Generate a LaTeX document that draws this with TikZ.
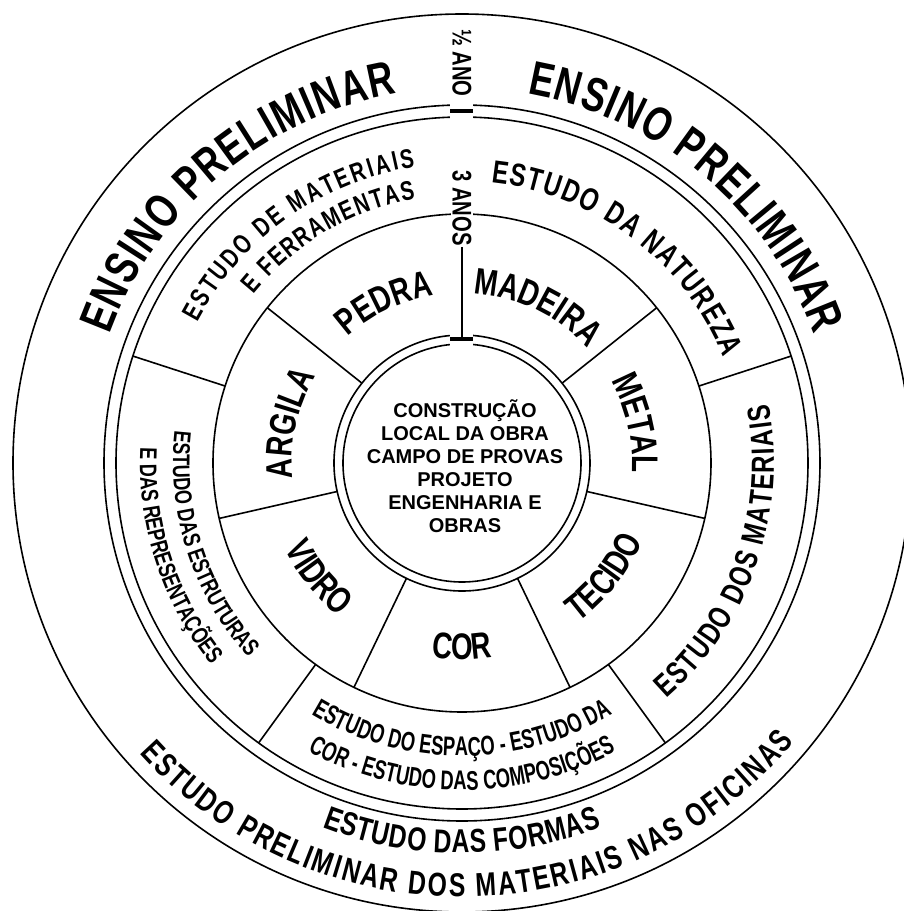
\documentclass[tikz,border=0pt]{standalone}
\usepackage{fontspec}
\setmainfont{Liberation Sans}
\newfontfamily\narrowfont[FakeStretch=0.75]{Liberation Sans}
\newfontfamily\tightfont[FakeStretch=0.68]{Liberation Sans}
\newcommand{\nb}[1]{\narrowfont\bfseries\fontsize{#1}{#1}\selectfont}
\newcommand{\tb}[1]{\tightfont\bfseries\fontsize{#1}{#1}\selectfont}
\usetikzlibrary{decorations.text}

\begin{document}
\begin{tikzpicture}
	[
	x=1pt, y=1pt,
	ring/.style={line width=1.6pt},
	fittext/.style={decorate, decoration={text along path, text align={fit to path}, text={#1}}},
	midtext/.style={decorate, decoration={text along path, text align=center, text={#1}}},
	tag/.style={rotate=-90, inner sep=1pt, font={\nb{27}}}
	]
		\useasboundingbox (-462,-448) rectangle (442,463);

		% circles
		\draw[ring] (0,0) circle[radius=449pt];
		\draw[ring] (0,0) circle[radius=358pt];
		\draw[ring] (0,0) circle[radius=346pt];
		\draw[ring] (0,0) circle[radius=249pt];
		\draw[ring] (0,0) circle[radius=128pt];
		\draw[ring] (0,0) circle[radius=119pt];

		% dividers
		\foreach \k in {1,...,6} \draw[ring] ({90-\k*360/7}:128pt) -- ({90-\k*360/7}:249pt);
		\foreach \a in {18,-54,-126,162} \draw[ring] (\a:249pt) -- (\a:346pt);

		% breaks at the top
		\fill[white] (-11.5,343) rectangle (11.5,361);
		\fill[white] (-11.5,116) rectangle (11.5,131);
		\draw[line width=4pt] (-11.5,352) -- (11.5,352);
		\draw[line width=4pt] (-11.5,123.5) -- (11.5,123.5);

		% time labels
		\node[tag] (half) at (0,400) {½ ANO};
		\node[tag, fill=white] (three) at (0,255) {3 ANOS};
		\coordinate (hub) at (0,123.5);
		\draw[ring] (three.east) -- (hub);

		% core
		\node[align=center, font={\bfseries\fontsize{20}{23}\selectfont}] (core) at (3,-3)
			{CONSTRUÇÃO\\LOCAL DA OBRA\\CAMPO DE PROVAS\\PROJETO\\ENGENHARIA E\\OBRAS};

		% materials
		\path[midtext={|\nb{37}|PEDRA}] (141.43:170pt) arc[start angle=141.43, end angle=90, radius=170pt];
		\path[midtext={|\nb{37}|MADEIRA}] (90:170pt) arc[start angle=90, end angle=38.57, radius=170pt];
		\path[midtext={|\nb{37}|METAL}] (38.57:170pt) arc[start angle=38.57, end angle=-12.86, radius=170pt];
		\path[midtext={|\nb{37}|TECIDO}] (-64.29:197pt) arc[start angle=-64.29, end angle=-12.86, radius=197pt];
		\path[midtext={|\nb{37}|COR}] (-115.71:197pt) arc[start angle=-115.71, end angle=-64.29, radius=197pt];
		\path[midtext={|\nb{37}|VIDRO}] (192.86:197pt) arc[start angle=192.86, end angle=244.29, radius=197pt];
		\path[midtext={|\nb{37}|ARGILA}] (192.86:170pt) arc[start angle=192.86, end angle=141.43, radius=170pt];

		% studies
		\path[fittext={|\nb{27}|ESTUDO DE MATERIAIS}] (152:300pt) arc[start angle=152, end angle=99, radius=300pt];
		\path[fittext={|\nb{27}|E FERRAMENTAS}] (141:268pt) arc[start angle=141, end angle=100, radius=268pt];
		\path[fittext={|\nb{32}|ESTUDO DA NATUREZA}] (84:282pt) arc[start angle=84, end angle=22, radius=282pt];
		\path[fittext={|\nb{32}|ESTUDO DOS MATERIAIS}] (-49:312pt) arc[start angle=-49, end angle=11, radius=312pt];
		\path[midtext={|\tb{27}|ESTUDO DO ESPAÇO - ESTUDO DA}] (234:293pt) arc[start angle=234, end angle=306, radius=293pt];
		\path[midtext={|\tb{27}|COR - ESTUDO DAS COMPOSIÇÕES}] (234:327pt) arc[start angle=234, end angle=306, radius=327pt];
		\path[midtext={|\nb{24}|ESTUDO DAS ESTRUTURAS}] (162:289pt) arc[start angle=162, end angle=234, radius=289pt];
		\path[midtext={|\nb{24}|E DAS REPRESENTAÇÕES}] (162:322pt) arc[start angle=162, end angle=234, radius=322pt];

		% outer ring
		\path[fittext={|\nb{48}|ENSINO PRELIMINAR}] (160:375pt) arc[start angle=160, end angle=100, radius=375pt];
		\path[fittext={|\nb{48}|ENSINO PRELIMINAR}] (80:375pt) arc[start angle=80, end angle=20, radius=375pt];
		\path[fittext={|\nb{33}|ESTUDO DAS FORMAS}] (249:390pt) arc[start angle=249, end angle=291, radius=390pt];
		\path[fittext={|\nb{33}|ESTUDO PRELIMINAR DOS MATERIAIS NAS OFICINAS}] (222:434pt) arc[start angle=222, end angle=320, radius=434pt];
	\end{tikzpicture}
\end{document}
